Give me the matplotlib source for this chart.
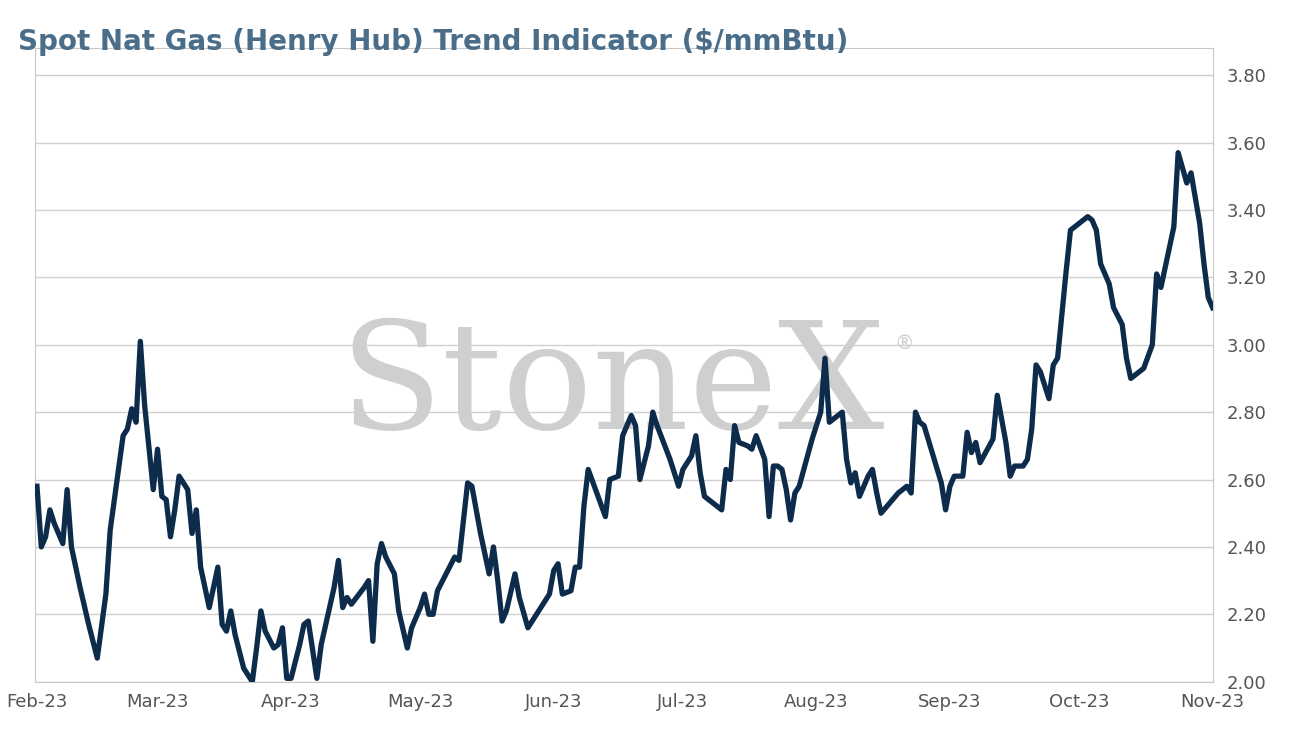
import numpy as np
import pandas as pd
import matplotlib
matplotlib.use("Agg")
import matplotlib.pyplot as plt
import matplotlib.dates as mdates

# days since 2023-02-01
days = [0, 1, 2, 3, 4, 6, 7, 8, 10, 12, 14, 16, 17, 20, 21, 22, 23, 24, 25, 27, 28, 29, 30, 31, 32, 33, 35, 36, 37, 38,
        40, 42, 43, 44, 45, 46, 48, 50, 51, 52, 53, 55, 56, 57, 58, 59, 61, 62, 63, 65, 66, 69, 70, 71, 72, 73, 76, 77, 78, 79,
        80, 81, 83, 84, 86, 87, 89, 90, 91, 92, 93, 97, 98, 100, 101, 103, 104, 105, 106, 107, 108, 109, 111, 112, 114, 115, 119, 120, 121, 122,
        124, 125, 126, 127, 128, 130, 132, 133, 135, 136, 137, 138, 139, 140, 142, 143, 144, 147, 149, 150, 152, 153, 154, 155, 158, 159, 160, 161, 162, 163,
        165, 166, 167, 169, 170, 171, 172, 173, 174, 175, 176, 177, 180, 182, 183, 184, 185, 187, 188, 189, 190, 191, 193, 194, 195, 196, 198, 200, 202, 203,
        204, 205, 206, 210, 211, 212, 213, 215, 216, 217, 218, 219, 222, 223, 225, 226, 227, 229, 230, 231, 232, 233, 235, 236, 237, 239, 240, 243, 244, 245,
        246, 247, 249, 250, 252, 253, 254, 257, 259, 260, 261, 263, 264, 265, 267, 268, 270, 271, 272, 273]
price = [2.58, 2.40, 2.43, 2.51, 2.47, 2.41, 2.57, 2.40, 2.28, 2.17, 2.07, 2.26, 2.45, 2.73, 2.75, 2.81, 2.77, 3.01, 2.82, 2.57, 2.69, 2.55, 2.54, 2.43, 2.51, 2.61, 2.57, 2.44, 2.51, 2.34,
         2.22, 2.34, 2.17, 2.15, 2.21, 2.14, 2.04, 2.00, 2.10, 2.21, 2.15, 2.10, 2.11, 2.16, 2.01, 2.01, 2.11, 2.17, 2.18, 2.01, 2.11, 2.28, 2.36, 2.22, 2.25, 2.23, 2.28, 2.30, 2.12, 2.35,
         2.41, 2.37, 2.32, 2.21, 2.10, 2.16, 2.22, 2.26, 2.20, 2.20, 2.27, 2.37, 2.36, 2.59, 2.58, 2.44, 2.38, 2.32, 2.40, 2.30, 2.18, 2.21, 2.32, 2.25, 2.16, 2.18, 2.26, 2.33, 2.35, 2.26,
         2.27, 2.34, 2.34, 2.52, 2.63, 2.56, 2.49, 2.60, 2.61, 2.73, 2.76, 2.79, 2.76, 2.60, 2.70, 2.80, 2.76, 2.66, 2.58, 2.63, 2.67, 2.73, 2.62, 2.55, 2.52, 2.51, 2.63, 2.60, 2.76, 2.71,
         2.70, 2.69, 2.73, 2.66, 2.49, 2.64, 2.64, 2.63, 2.57, 2.48, 2.56, 2.58, 2.72, 2.80, 2.96, 2.77, 2.78, 2.80, 2.66, 2.59, 2.62, 2.55, 2.61, 2.63, 2.56, 2.50, 2.53, 2.56, 2.58, 2.56,
         2.80, 2.77, 2.76, 2.59, 2.51, 2.58, 2.61, 2.61, 2.74, 2.68, 2.71, 2.65, 2.72, 2.85, 2.71, 2.61, 2.64, 2.64, 2.66, 2.75, 2.94, 2.92, 2.84, 2.94, 2.96, 3.22, 3.34, 3.37, 3.38, 3.37,
         3.34, 3.24, 3.18, 3.11, 3.06, 2.96, 2.90, 2.93, 3.00, 3.21, 3.17, 3.29, 3.35, 3.57, 3.48, 3.51, 3.36, 3.24, 3.14, 3.11]

dates = pd.Timestamp("2023-02-01") + pd.to_timedelta(days, unit="D")

fig = plt.figure(figsize=(12.9, 7.41), dpi=100)
ax = fig.add_axes([0.027, 0.080, 0.913, 0.855])
ax.plot(dates, price, color="#0d2b4a", lw=3.8, solid_joinstyle="round", zorder=3)

ax.set_xlim(pd.Timestamp("2023-01-31 12:00"), pd.Timestamp("2023-11-01"))
ax.set_ylim(2.0, 3.88)
ax.set_yticks(np.arange(2.0, 3.81, 0.2))
ax.yaxis.set_major_formatter(matplotlib.ticker.FormatStrFormatter("%.2f"))
ax.yaxis.tick_right()
ax.xaxis.set_major_locator(mdates.MonthLocator())
ax.xaxis.set_major_formatter(mdates.DateFormatter("%b-%y"))
ax.tick_params(length=0, labelsize=13, colors="#555555", pad=8)
ax.tick_params(axis="y", pad=10)
ax.grid(axis="y", color="#d0d0d0", lw=1)
for s in ax.spines.values():
    s.set_color("#c8c8c8")

# watermark
ax.text(0.49, 0.465, "StoneX", transform=ax.transAxes, ha="center", va="center",
        fontsize=108, family="DejaVu Serif", color="#cfcfcf", zorder=1)
ax.text(0.73, 0.525, "®", transform=ax.transAxes, fontsize=14, color="#cfcfcf", zorder=1)

fig.text(0.014, 0.932, "Spot Nat Gas (Henry Hub) Trend Indicator ($/mmBtu)", fontsize=20,
         fontweight="bold", color="#4a6e8a", va="baseline")

fig.savefig("out.png")
